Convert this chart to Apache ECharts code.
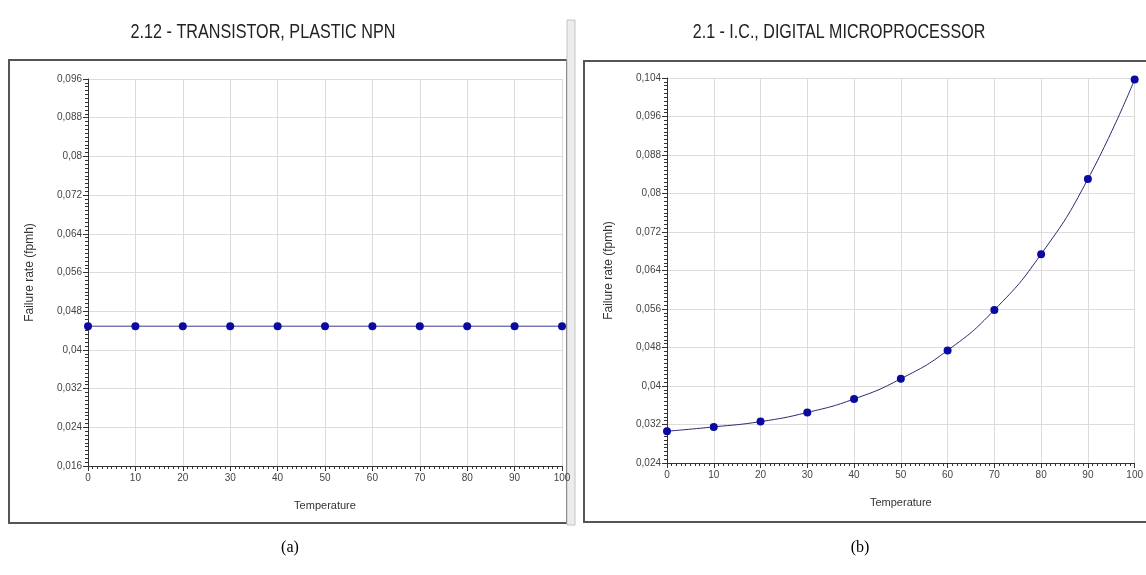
<!DOCTYPE html>
<html>
<head>
<meta charset="utf-8">
<script src="https://cdn.jsdelivr.net/npm/echarts@6/dist/echarts.min.js"></script>
<style>html,body{margin:0;padding:0;background:#fff;}#c{width:1146px;height:575px;}</style>
</head>
<body>
<div id="c"></div>
<script>
const temperatures = [0, 10, 20, 30, 40, 50, 60, 70, 80, 90, 100];
const transistorRates = [0.0449, 0.0449, 0.0449, 0.0449, 0.0449, 0.0449, 0.0449, 0.0449, 0.0449, 0.0449, 0.0449];
const microprocessorRates = [0.0306, 0.0315, 0.0326, 0.0345, 0.0373, 0.0415, 0.0474, 0.0558, 0.0674, 0.0830, 0.1037];
const titleA = '2.12 - TRANSISTOR, PLASTIC NPN';
const titleB = '2.1 - I.C., DIGITAL MICROPROCESSOR';
const yAxisName = 'Failure rate (fpmh)';
const xAxisName = 'Temperature';
const captions = ['(a)', '(b)'];

const FONT = "'Liberation Sans', Arial, sans-serif";
const fmtY = v => parseFloat(v.toFixed(3)).toString().replace('.', ',');

function xAx(gi) {
  return {
    type: 'value', gridIndex: gi, min: 0, max: 100, interval: 10,
    name: xAxisName, nameLocation: 'middle', nameGap: 34,
    nameTextStyle: { fontFamily: FONT, fontSize: 11, color: '#333' },
    axisLine: { lineStyle: { color: '#333', width: 1 } },
    axisTick: { show: true, length: 5, lineStyle: { color: '#333' } },
    minorTick: { show: true, splitNumber: 10, length: 3, lineStyle: { color: '#333' } },
    axisLabel: { fontFamily: FONT, fontSize: 10, color: '#444', margin: 7 },
    splitLine: { show: true, lineStyle: { color: '#dcdcdc', width: 1 } }
  };
}
function yAx(gi, min, max) {
  return {
    type: 'value', gridIndex: gi, min: min, max: max, interval: 0.008,
    name: yAxisName, nameLocation: 'middle', nameGap: 52,
    nameTextStyle: { fontFamily: FONT, fontSize: 12, color: '#333' },
    axisLine: { show: true, lineStyle: { color: '#333', width: 1 } },
    axisTick: { show: true, length: 5, lineStyle: { color: '#333' } },
    minorTick: { show: true, splitNumber: 10, length: 3, lineStyle: { color: '#333' } },
    axisLabel: { fontFamily: FONT, fontSize: 10, color: '#444', margin: 6, formatter: fmtY },
    splitLine: { show: true, lineStyle: { color: '#dcdcdc', width: 1 } }
  };
}

const chart = echarts.init(document.getElementById('c'), null, { renderer: 'canvas' });
chart.setOption({
  backgroundColor: '#fff',
  animation: false,
  grid: [
    { left: 88, right: 584, top: 79, bottom: 109 },
    { left: 667, right: 4, top: 78, bottom: 112 }
  ],
  xAxis: [xAx(0), xAx(1)],
  yAxis: [yAx(0, 0.016, 0.096), yAx(1, 0.024, 0.104)],
  series: [
    { type: 'line', xAxisIndex: 0, yAxisIndex: 0,
      data: temperatures.map((t, i) => [t, transistorRates[i]]),
      symbol: 'circle', symbolSize: 8,
      lineStyle: { color: '#3a3a96', width: 1 },
      itemStyle: { color: '#0a0aa0' } },
    { type: 'line', xAxisIndex: 1, yAxisIndex: 1, smooth: true,
      data: temperatures.map((t, i) => [t, microprocessorRates[i]]),
      symbol: 'circle', symbolSize: 8,
      lineStyle: { color: '#2a2a70', width: 1 },
      itemStyle: { color: '#0a0aa0' } }
  ],
  graphic: [
    { type: 'text', x: 263, y: 32, scaleX: 0.77, originX: 0, originY: 0,
      style: { text: titleA, fontFamily: FONT, fontSize: 21, fill: '#222', align: 'center', verticalAlign: 'middle' } },
    { type: 'text', x: 839, y: 32, scaleX: 0.765, originX: 0, originY: 0,
      style: { text: titleB, fontFamily: FONT, fontSize: 21, fill: '#222', align: 'center', verticalAlign: 'middle' } },
    { type: 'rect', shape: { x: 9, y: 60, width: 558, height: 463 }, z: -1,
      style: { fill: 'none', stroke: '#555', lineWidth: 2 } },
    { type: 'rect', shape: { x: 567, y: 20, width: 8, height: 505 }, z: -1,
      style: { fill: '#ececec', stroke: '#c4c4c4', lineWidth: 1 } },
    { type: 'rect', shape: { x: 584, y: 61, width: 580, height: 461 }, z: -1,
      style: { fill: 'none', stroke: '#555', lineWidth: 2 } },
    { type: 'text', x: 290, y: 548, style: { text: captions[0], fontFamily: "'Liberation Serif', serif", fontSize: 16, fill: '#000', align: 'center', verticalAlign: 'middle' } },
    { type: 'text', x: 860, y: 548, style: { text: captions[1], fontFamily: "'Liberation Serif', serif", fontSize: 16, fill: '#000', align: 'center', verticalAlign: 'middle' } }
  ]
});
</script>
</body>
</html>
